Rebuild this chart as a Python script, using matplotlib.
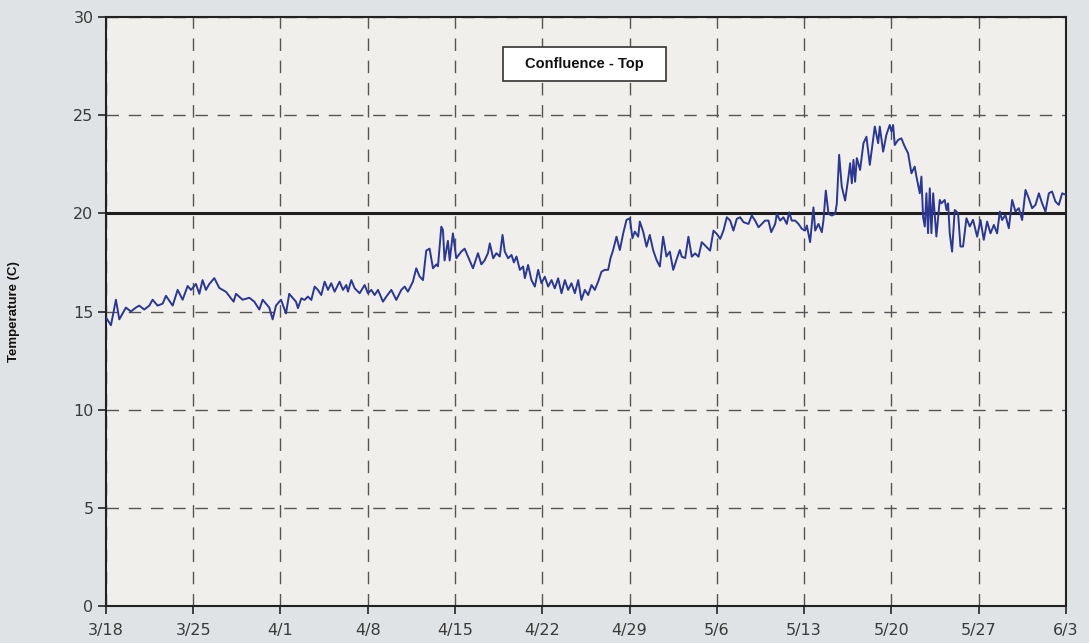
import matplotlib
matplotlib.use("Agg")
import matplotlib.pyplot as plt
from matplotlib.patches import Rectangle

# ---- data (days since 3/18, temperature in C) ----
days = [
    0.00, 0.40, 0.80, 1.07, 1.60, 2.00, 2.40, 2.67, 3.07, 3.48, 3.74, 4.14, 4.55, 4.81,
    5.35, 5.75, 6.15, 6.55, 6.82, 7.22, 7.49, 7.75, 8.02, 8.29, 8.69, 9.09, 9.63, 10.24,
    10.43, 10.96, 11.50, 11.90, 12.30, 12.57, 13.10, 13.37, 13.64, 14.04, 14.44, 14.70,
    15.24,
    15.40, 15.67, 15.93, 16.20, 16.47, 16.74, 17.00, 17.27, 17.54, 17.81, 18.07, 18.34,
    18.74, 19.01, 19.28, 19.41, 19.68, 19.95, 20.35, 20.75, 21.01, 21.28, 21.55, 21.82,
    22.22, 22.49, 22.89, 23.29, 23.69, 23.96, 24.22, 24.62, 24.89, 25.16, 25.43, 25.69,
    25.96, 26.23, 26.50, 26.63, 26.90, 27.03, 27.16, 27.43, 27.57, 27.83, 28.10, 28.50,
    28.77, 29.04, 29.44, 29.84, 30.11, 30.37, 30.64,
    30.79, 31.06, 31.32, 31.59, 31.81, 31.99, 32.26, 32.53, 32.72, 32.93, 33.20, 33.46,
    33.60, 33.86, 34.13, 34.40, 34.67, 34.93, 35.20, 35.47, 35.74, 36.00, 36.27, 36.54,
    36.81, 37.07, 37.34, 37.61, 37.88, 38.14, 38.41, 38.68, 38.95, 39.21, 39.48, 39.75,
    40.01, 40.28, 40.47, 40.68, 40.95, 41.22, 41.49, 41.75, 42.02, 42.23, 42.42, 42.69,
    42.82, 43.09, 43.36, 43.62, 43.89, 44.16, 44.43, 44.69, 44.96, 45.23, 45.50, 45.76,
    46.03,
    46.19, 46.46, 46.72, 46.99, 47.26, 47.53, 47.79, 48.06, 48.46, 48.73, 49.00, 49.27,
    49.53, 49.80, 50.07, 50.33, 50.60, 50.87, 51.14, 51.54, 51.80, 52.07, 52.34, 52.61,
    52.87, 53.14, 53.36, 53.68, 53.81, 54.08, 54.34, 54.61, 54.80, 55.01, 55.28, 55.55,
    55.82, 56.08, 56.22, 56.48, 56.75, 56.89, 57.15, 57.42, 57.55, 57.74, 57.96, 58.22,
    58.49, 58.62, 58.81, 59.02, 59.29, 59.56, 59.69, 59.83, 59.96, 60.09, 60.23, 60.49,
    60.76, 61.00,
    61.27, 61.67, 61.94, 62.07, 62.34, 62.60, 62.87, 63.01, 63.14, 63.27, 63.54, 63.80,
    64.07, 64.34, 64.61, 64.87, 65.01, 65.28, 65.41, 65.54, 65.68, 65.81, 65.94, 66.08,
    66.21, 66.35, 66.61, 66.88, 67.01, 67.28, 67.42, 67.55, 67.68, 67.87, 68.08, 68.35,
    68.54, 68.75, 69.02, 69.29, 69.55,
    69.88, 70.15, 70.41, 70.68, 70.95, 71.22, 71.48, 71.70, 71.88, 72.15, 72.42, 72.69,
    72.95, 73.22, 73.49, 73.76, 74.02, 74.29, 74.56, 74.83, 75.09, 75.36, 75.63, 75.89,
    76.16, 76.43, 76.70, 77.00,
]
temps = [
    14.7, 14.3, 15.6, 14.6, 15.2, 15.0, 15.2, 15.3, 15.1, 15.3, 15.6, 15.3, 15.4, 15.8,
    15.3, 16.1, 15.6, 16.3, 16.1, 16.4, 15.9, 16.6, 16.1, 16.4, 16.7, 16.2, 16.0, 15.5,
    15.9, 15.6, 15.7, 15.5, 15.1, 15.6, 15.2, 14.6, 15.3, 15.6, 14.9, 15.9,
    15.5,
    15.17, 15.67, 15.59, 15.76, 15.59, 16.27, 16.10, 15.84, 16.52, 16.10, 16.44, 16.01,
    16.52, 16.10, 16.35, 16.01, 16.60, 16.18, 15.93, 16.35, 15.93, 16.10, 15.84, 16.10,
    15.50, 15.76, 16.10, 15.59, 16.10, 16.27, 16.01, 16.52, 17.20, 16.78, 16.60, 18.10,
    18.20, 17.20, 17.40, 17.30, 19.32, 19.15, 17.60, 18.60, 17.60, 18.98, 17.71, 18.05,
    18.20, 17.80, 17.20, 17.97, 17.40, 17.60, 17.97,
    18.47, 17.71, 17.97, 17.80, 18.90, 18.05, 17.71, 17.88, 17.50, 17.80, 17.12, 17.29,
    16.70, 17.37, 16.60, 16.27, 17.12, 16.44, 16.77, 16.27, 16.60, 16.18, 16.69, 15.93,
    16.60, 16.10, 16.44, 15.93, 16.60, 15.59, 16.10, 15.84, 16.35, 16.10, 16.52, 17.03,
    17.12, 17.12, 17.71, 18.13, 18.81, 18.13, 18.98, 19.66, 19.75, 18.73, 19.07, 18.81,
    19.58, 19.07, 18.30, 18.90, 18.13, 17.63, 17.29, 18.81, 17.80, 18.05, 17.12, 17.63,
    18.13,
    17.79, 17.72, 18.81, 17.79, 17.96, 17.79, 18.53, 18.36, 18.10, 19.12, 18.95, 18.70,
    19.12, 19.80, 19.63, 19.12, 19.72, 19.80, 19.55, 19.46, 19.89, 19.63, 19.29, 19.46,
    19.63, 19.63, 19.04, 19.46, 19.97, 19.63, 19.80, 19.46, 20.05, 19.63, 19.63, 19.46,
    19.21, 19.12, 19.38, 18.53, 20.30, 19.12, 19.46, 19.04, 19.63, 21.16, 19.97, 19.89,
    19.97, 20.48, 22.98, 21.36, 20.65, 21.87, 22.55, 21.53, 22.72, 21.61, 22.81, 22.21,
    23.57, 23.90,
    22.47, 24.42, 23.57, 24.42, 23.14, 24.00, 24.50, 24.17, 24.50, 23.48, 23.74, 23.82,
    23.40, 23.06, 22.04, 22.38, 21.87, 21.02, 21.87, 19.83, 19.33, 21.02, 18.99, 21.27,
    18.99, 21.02, 18.82, 20.68, 20.51, 20.68, 20.17, 20.51, 18.99, 18.05, 20.17, 20.00,
    18.31, 18.31, 19.75, 19.33, 19.67,
    18.81, 19.66, 18.65, 19.58, 18.98, 19.41, 18.98, 20.09, 19.66, 19.92, 19.24, 20.68,
    20.09, 20.26, 19.66, 21.19, 20.77, 20.26, 20.43, 21.02, 20.51, 20.09, 21.02, 21.11,
    20.60, 20.43, 21.02, 20.94,
]
tick_days = [0, 7, 14, 21, 28, 35, 42, 49, 56, 63, 70, 77]
tick_labels = ["3/18", "3/25", "4/1", "4/8", "4/15", "4/22", "4/29",
               "5/6", "5/13", "5/20", "5/27", "6/3"]
y_ticks = [0, 5, 10, 15, 20, 25, 30]
threshold = 20
title_text = "Confluence - Top"
ylabel_text = "Temperature (C)"

# ---- figure ----
fig = plt.figure(figsize=(10.89, 6.43), dpi=100, facecolor="#dfe3e5")
ax = fig.add_axes([0.0973, 0.0575, 0.8815, 0.9161])
ax.set_facecolor("#f0efeb")

ax.set_xlim(0, 77)
ax.set_ylim(0, 30)
ax.set_xticks(tick_days)
ax.set_xticklabels(tick_labels)
ax.set_yticks(y_ticks)

ax.grid(True, color="#555555", linestyle=(0, (9, 7)), linewidth=1.0)
ax.set_axisbelow(True)

ax.axhline(threshold, color="#1e1e1e", linewidth=2.2, zorder=3)
ax.plot(days, temps, color="#2b3790", linewidth=1.4, zorder=4)

for s in ax.spines.values():
    s.set_color("#222222")
    s.set_linewidth(1.5)

ax.tick_params(axis="both", direction="out", length=6, width=1.2, color="#222222",
               labelsize=11.5, labelcolor="#3a3a3a")
ax.tick_params(axis="y", pad=3)
ax.tick_params(axis="x", pad=6)

ax.set_ylabel(ylabel_text, fontsize=9.5, fontweight="bold",
              family="Liberation Sans", color="#111111", labelpad=38)

# label box
ax.add_patch(Rectangle((0.4135, 0.8913), 0.1698, 0.0577, transform=ax.transAxes,
                       facecolor="white", edgecolor="#333333", linewidth=1.2, zorder=5))
ax.text(0.4984, 0.9202, title_text, transform=ax.transAxes, ha="center", va="center",
        fontsize=10.5, fontweight="bold", family="Liberation Sans", color="#111111",
        zorder=6)

fig.savefig("out.png", dpi=100, facecolor=fig.get_facecolor())
